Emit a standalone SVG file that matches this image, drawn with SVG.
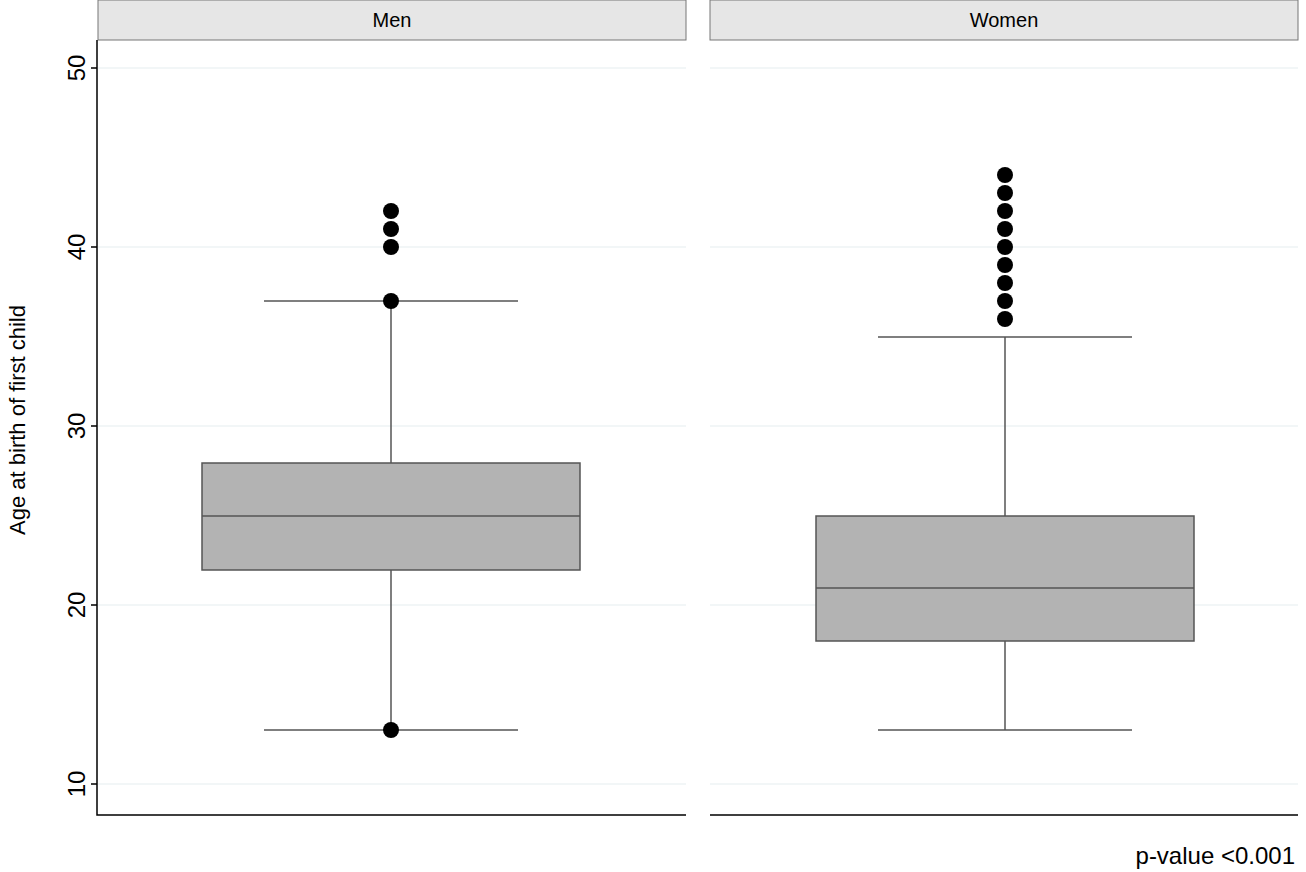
<svg xmlns="http://www.w3.org/2000/svg" width="1306" height="872" viewBox="0 0 1306 872">
<style>
text{font-family:"Liberation Sans",Arial,sans-serif;fill:#000}
.hdr{fill:#e6e6e6;stroke:#777;stroke-width:1}
.grid{stroke:#eef3f4;stroke-width:1.5}
.ax{stroke:#000;stroke-width:1.5;fill:none}
.box{fill:#b3b3b3;stroke:#555;stroke-width:1.5}
.wh{stroke:#555;stroke-width:1.5}
.pt{fill:#000}
.tick{font-size:24px}
</style>
<rect width="1306" height="872" fill="#fff"/>
<g id="frame">
<rect class="hdr" x="98" y="0" width="588" height="40"/>
<text x="392" y="27" font-size="20" text-anchor="middle">Men</text>
<rect class="hdr" x="710" y="0" width="588" height="40"/>
<text x="1004" y="27" font-size="20" text-anchor="middle">Women</text>
<g class="grid">
<line x1="98" y1="68" x2="686" y2="68"/><line x1="98" y1="247" x2="686" y2="247"/><line x1="98" y1="426" x2="686" y2="426"/><line x1="98" y1="605" x2="686" y2="605"/><line x1="98" y1="784" x2="686" y2="784"/>
<line x1="710" y1="68" x2="1298" y2="68"/><line x1="710" y1="247" x2="1298" y2="247"/><line x1="710" y1="426" x2="1298" y2="426"/><line x1="710" y1="605" x2="1298" y2="605"/><line x1="710" y1="784" x2="1298" y2="784"/>
</g>
<path class="ax" d="M97 40V815H686M710 815H1298"/>
<path class="ax" d="M91 68H97M91 247H97M91 426H97M91 605H97M91 784H97"/>
<g class="tick" text-anchor="middle">
<text transform="translate(85 68) rotate(-90)">50</text>
<text transform="translate(85 247) rotate(-90)">40</text>
<text transform="translate(85 426) rotate(-90)">30</text>
<text transform="translate(85 605) rotate(-90)">20</text>
<text transform="translate(85 784) rotate(-90)">10</text>
</g>
<text transform="translate(25 420) rotate(-90)" font-size="22" text-anchor="middle">Age at birth of first child</text>
<text x="1295" y="864" font-size="24" text-anchor="end">p-value &lt;0.001</text>
</g>
<g id="men">
<line class="wh" x1="391" y1="301" x2="391" y2="730"/>
<line class="wh" x1="264" y1="301" x2="518" y2="301"/>
<line class="wh" x1="264" y1="730" x2="518" y2="730"/>
<rect class="box" x="202" y="463" width="378" height="107"/>
<line class="wh" x1="202" y1="516" x2="580" y2="516"/>
<g class="pt"><circle cx="391" cy="211" r="8"/><circle cx="391" cy="229" r="8"/><circle cx="391" cy="247" r="8"/><circle cx="391" cy="301" r="8"/><circle cx="391" cy="730" r="8"/></g>
</g>
<g id="women">
<line class="wh" x1="1005" y1="337" x2="1005" y2="730"/>
<line class="wh" x1="878" y1="337" x2="1132" y2="337"/>
<line class="wh" x1="878" y1="730" x2="1132" y2="730"/>
<rect class="box" x="816" y="516" width="378" height="125"/>
<line class="wh" x1="816" y1="588" x2="1194" y2="588"/>
<g class="pt"><circle cx="1005" cy="319" r="8"/><circle cx="1005" cy="301" r="8"/><circle cx="1005" cy="283" r="8"/><circle cx="1005" cy="265" r="8"/><circle cx="1005" cy="247" r="8"/><circle cx="1005" cy="229" r="8"/><circle cx="1005" cy="211" r="8"/><circle cx="1005" cy="193" r="8"/><circle cx="1005" cy="175" r="8"/></g>
</g>
<g id="connectors"/>
</svg>
